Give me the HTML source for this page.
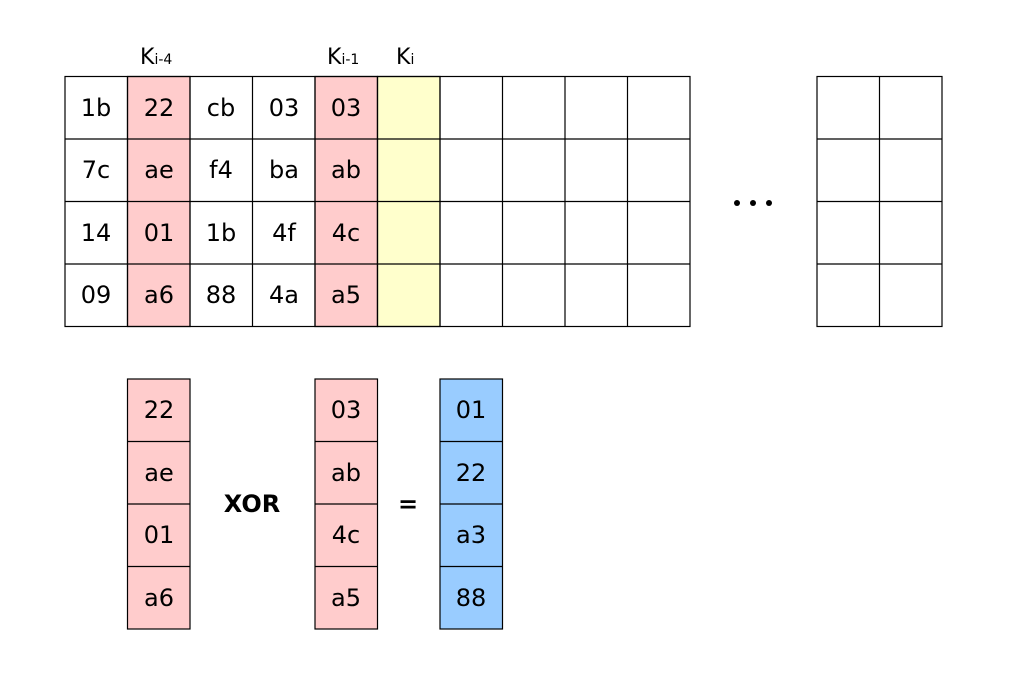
<!DOCTYPE html>
<html><head><meta charset="utf-8"><style>html,body{margin:0;padding:0;background:#fff}</style></head>
<body>
<svg width="1024" height="692" xmlns="http://www.w3.org/2000/svg" font-family="'DejaVu Sans','Liberation Sans',sans-serif">
<rect width="1024" height="692" fill="#fff"/>
<g stroke="#000" stroke-width="1.2">
<rect x="127.5" y="76.5" width="62.5" height="250" fill="#ffcccc"/>
<rect x="315" y="76.5" width="62.5" height="250" fill="#ffcccc"/>
<rect x="377.5" y="76.5" width="62.5" height="250" fill="#ffffcc"/>
<rect x="65" y="76.5" width="625" height="250" fill="none"/>
<path d="M127.5 76.5V326.5M190 76.5V326.5M252.5 76.5V326.5M315 76.5V326.5M377.5 76.5V326.5M440 76.5V326.5M502.5 76.5V326.5M565 76.5V326.5M627.5 76.5V326.5M65 139H690M65 201.5H690M65 264H690"/>
<rect x="817" y="76.5" width="125" height="250" fill="none"/>
<path d="M879.5 76.5V326.5M817 139H942M817 201.5H942M817 264H942"/>
<rect x="127.5" y="379" width="62.5" height="250" fill="#ffcccc"/>
<path d="M127.5 441.5H190M127.5 504H190M127.5 566.5H190"/>
<rect x="315" y="379" width="62.5" height="250" fill="#ffcccc"/>
<path d="M315 441.5H377.5M315 504H377.5M315 566.5H377.5"/>
<rect x="440" y="379" width="62.5" height="250" fill="#99ccff"/>
<path d="M440 441.5H502.5M440 504H502.5M440 566.5H502.5"/>
</g>
<g font-size="24" text-anchor="middle" fill="#000">
<text x="96" y="116">1b</text><text x="159" y="116">22</text><text x="221" y="116">cb</text><text x="284" y="116">03</text><text x="346" y="116">03</text>
<text x="96" y="178">7c</text><text x="159" y="178">ae</text><text x="221" y="178">f4</text><text x="284" y="178">ba</text><text x="346" y="178">ab</text>
<text x="96" y="241">14</text><text x="159" y="241">01</text><text x="221" y="241">1b</text><text x="284" y="241">4f</text><text x="346" y="241">4c</text>
<text x="96" y="303">09</text><text x="159" y="303">a6</text><text x="221" y="303">88</text><text x="284" y="303">4a</text><text x="346" y="303">a5</text>
<text x="159" y="418">22</text><text x="159" y="481">ae</text><text x="159" y="543">01</text><text x="159" y="606">a6</text>
<text x="346" y="418">03</text><text x="346" y="481">ab</text><text x="346" y="543">4c</text><text x="346" y="606">a5</text>
<text x="471" y="418">01</text><text x="471" y="481">22</text><text x="471" y="543">a3</text><text x="471" y="606">88</text>
<text x="252" y="512" font-weight="bold">XOR</text>
<text x="408" y="512" font-weight="bold">=</text>
</g>
<g font-size="22" fill="#000">
<text x="140" y="64">K<tspan font-size="14">i-4</tspan></text>
<text x="327" y="64">K<tspan font-size="14">i-1</tspan></text>
<text x="396" y="64">K<tspan font-size="14">i</tspan></text>
</g>
<g fill="#000"><circle cx="737" cy="203" r="3"/><circle cx="753" cy="203" r="3"/><circle cx="769" cy="203" r="3"/></g>
</svg>
</body></html>
